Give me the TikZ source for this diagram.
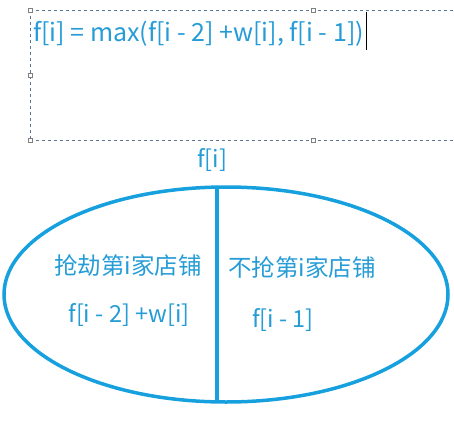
\documentclass[tikz,border=0pt]{standalone}
\usepackage{fontspec}
\setmainfont{Noto Sans CJK SC}
\usepackage{tikz}
\usetikzlibrary{positioning,shapes,calc}

\definecolor{skyblue}{RGB}{22,160,222}
\definecolor{textblue}{RGB}{38,156,214}
\definecolor{framegray}{RGB}{90,120,150}

\begin{document}
\begin{tikzpicture}[x=1pt, y=1pt,
    label/.style={
        text=textblue,
        inner sep=0pt,
        font=\fontsize{23.5}{26}\selectfont
    },
    handle/.style={
        rectangle,
        draw=gray,
        fill=white,
        line width=0.6pt,
        minimum size=4pt,
        inner sep=0pt
    },
    frame/.style={draw=framegray, dashed, line width=0.7pt},
    outline/.style={draw=skyblue, line width=3.5pt}]

    \useasboundingbox (0,0) rectangle (454,421);

    % Text box with formula
    \draw[frame] (30,411) -- (454,411);
    \draw[frame] (30,411) -- (30,281);
    \draw[frame] (30,281) -- (454,281);
    \node[handle] (h1) at (30,411) {};
    \node[handle] (h2) at (313,411) {};
    \node[handle] (h3) at (30,346) {};
    \node[handle] (h4) at (30,281) {};
    \node[handle] (h5) at (313,281) {};
    \node[label, anchor=base west, font=\fontsize{25}{28}\selectfont] (formula) at (33,379) {f[i] = max(f[i - 2] +w[i], f[i - 1])};
    \draw[line width=0.6pt] ($(formula.base east)+(2,30)$) -- ($(formula.base east)+(2,-8)$);

    % Split ellipse
    \node[label] (fi) at (212,261) {f[i]};
    \node[outline, ellipse, minimum width=444, minimum height=215] (whole) at (226,126.5) {};
    \draw[outline] (217,234) -- (217,19);

    % Left half
    \node[label] (rob) at (128,156) {抢劫第i家店铺};
    \node[label] (robval) at (129,106) {f[i - 2] +w[i]};

    % Right half
    \node[label] (skip) at (302,154) {不抢第i家店铺};
    \node[label] (skipval) at (283,101) {f[i - 1]};
\end{tikzpicture}
\end{document}
